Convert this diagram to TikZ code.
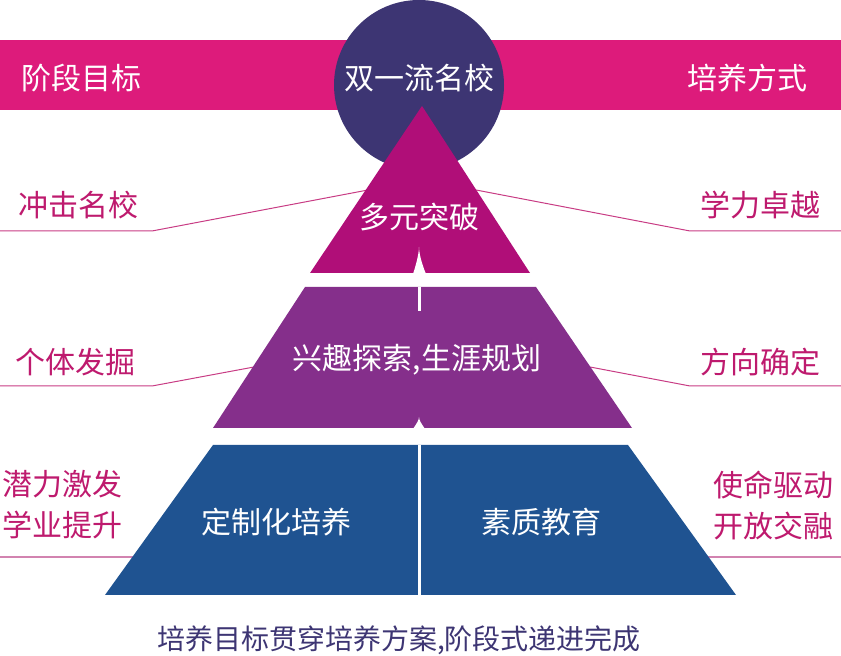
\documentclass[tikz,border=0pt]{standalone}
\usepackage{fontspec}
\setmainfont{Noto Sans CJK SC}
\usepackage{xcolor}
\usetikzlibrary{positioning}
\definecolor{rosa}{HTML}{DD1B7B}
\definecolor{noche}{HTML}{3D3573}
\definecolor{fucsia}{HTML}{B00E78}
\definecolor{violeta}{HTML}{852F8B}
\definecolor{azul}{HTML}{1F5391}
\definecolor{rotulo}{HTML}{BE1A6E}
\definecolor{guiaclara}{HTML}{D283B0}
\tikzset{
  banda/.style={text=white, inner sep=0pt, font=\fontsize{15}{18}\selectfont},
  nivel/.style={text=white, inner sep=0pt, font=\fontsize{15}{18}\selectfont},
  etiq/.style={text=rotulo, inner sep=0pt, align=left, font=\fontsize{15}{20.5}\selectfont},
  guia/.style={draw=rotulo!85, line width=0.5pt},
  guiab/.style={draw=guiaclara, line width=1pt},
  corte/.style={draw=white, line width=1.5pt},
}
\begin{document}
\begin{tikzpicture}[x=0.5pt, y=-0.5pt]
  \useasboundingbox (0,0) rectangle (841,656);
  \fill[rosa] (0,40) rectangle (841,110);
  \node[banda, anchor=west] (meta) at (21,78) {阶段目标};
  \node[banda, anchor=east] (modo) at (808,78) {培养方式};

  \foreach \y/\yy/\xl/\xr [count=\i] in {231/190/368/476, 386/367/254/590} {
    \coordinate (iz\i) at (0,\y);
    \coordinate (izq\i) at (152,\y);
    \coordinate (izf\i) at (\xl,\yy);
    \coordinate (de\i) at (841,\y);
    \coordinate (deq\i) at (690,\y);
    \coordinate (def\i) at (\xr,\yy);
    \draw[guia] (iz\i) -- (izq\i) -- (izf\i);
    \draw[guia] (de\i) -- (deq\i) -- (def\i);
  }
  \coordinate (iz3) at (0,557);
  \coordinate (izf3) at (134,557);
  \coordinate (de3) at (841,557);
  \coordinate (def3) at (707,557);
  \draw[guiab] (iz3) -- (izf3);
  \draw[guiab] (de3) -- (def3);

  \fill[noche] (419,85) circle[radius=85];
  \node[banda] (cima) at (419,78) {双一流名校};

  \fill[fucsia] (422,106) -- (530,273) -- (310,273) -- cycle;
  \fill[white] (413,274) .. controls (417,262) and (419,252) .. (419,247)
    .. controls (419,252) and (421,262) .. (426,274) -- cycle;
  \node[nivel] (n1) at (419,217) {多元突破};

  \fill[violeta] (305,287) -- (536,287) -- (632,428) -- (213,428) -- cycle;
  \draw[corte] (419,287) -- (419,311);
  \fill[white] (413,429) .. controls (417,423) and (419,420) .. (419,417)
    .. controls (419,420) and (421,423) .. (425,429) -- cycle;
  \node[nivel] (n2) at (417,360) {兴趣探索,生涯规划};

  \fill[azul] (213,445) -- (628,445) -- (736,595) -- (105,595) -- cycle;
  \draw[corte] (419,445) -- (419,595);
  \node[nivel] (n3a) at (276,522) {定制化培养};
  \node[nivel] (n3b) at (541,522) {素质教育};

  \node[etiq, anchor=west] (a1) at (18,205) {冲击名校};
  \node[etiq, anchor=east] (b1) at (821,205) {学力卓越};
  \node[etiq, anchor=west] (a2) at (15,362) {个体发掘};
  \node[etiq, anchor=east] (b2) at (821,362) {方向确定};
  \node[etiq, anchor=west] (a3) at (2,505) {潜力激发\\学业提升};
  \node[etiq, anchor=east] (b3) at (834,505) {使命驱动\\开放交融};

  \node[text=noche, inner sep=0pt, font=\fontsize{14}{18}\selectfont] (pie) at (399,640)
    {培养目标贯穿培养方案,阶段式递进完成};
\end{tikzpicture}
\end{document}
